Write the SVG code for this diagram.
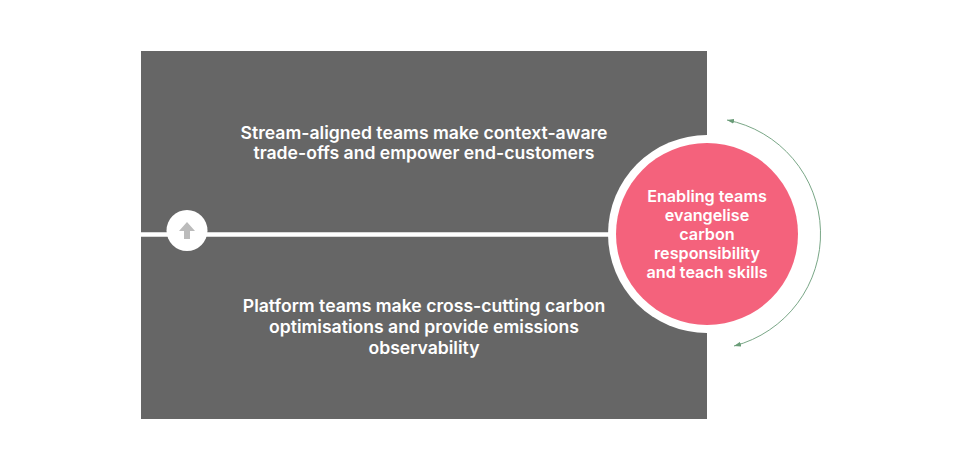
<svg xmlns="http://www.w3.org/2000/svg" width="960" height="465" viewBox="0 0 960 465">
<style>
text{font-family:Inter,"Liberation Sans",sans-serif;font-weight:600;fill:#fff;text-anchor:middle;font-size:17.6px}
.n text{font-size:16.2px}
.c{fill:none;stroke:#6a9c78;stroke-width:.9}
</style>
<defs><marker id="a" markerWidth="8" markerHeight="6" refX="7" refY="2.500" orient="auto-start-reverse" markerUnits="userSpaceOnUse"><path d="M0 0L7 2.500L0 5Z" fill="#6a9c78"/></marker></defs>
<rect width="960" height="465" fill="#fff"/>
<g id="background"><rect x="141" y="51" width="566" height="368" fill="#666"/></g>
<g id="stream"><text x="424" y="138.500">Stream-aligned teams make context-aware</text><text x="424" y="159">trade-offs and empower end-customers</text></g>
<g id="platform"><text x="424" y="312">Platform teams make cross-cutting carbon</text><text x="424" y="333">optimisations and provide emissions</text><text x="424" y="353.500">observability</text></g>
<g id="connectors"><path d="M141 234.500H612" stroke="#fff" stroke-width="4.500" fill="none"/>
<path class="c" d="M727 120A116 116 0 0 1 734 346" marker-start="url(#a)" marker-end="url(#a)"/></g>
<g id="flow"><circle cx="187" cy="230.500" r="20.500" fill="#fff"/><path d="M187 222L195 231H190V239H184V231H179Z" fill="#bbb"/></g>
<g id="enabling" class="n"><circle cx="707" cy="234" r="99" fill="#fff"/><circle cx="707" cy="234" r="91" fill="#f4627c"/>
<text x="707" y="202">Enabling teams</text><text x="707" y="221">evangelise</text><text x="707" y="240">carbon</text><text x="707" y="259">responsibility</text><text x="707" y="278">and teach skills</text></g>
</svg>
